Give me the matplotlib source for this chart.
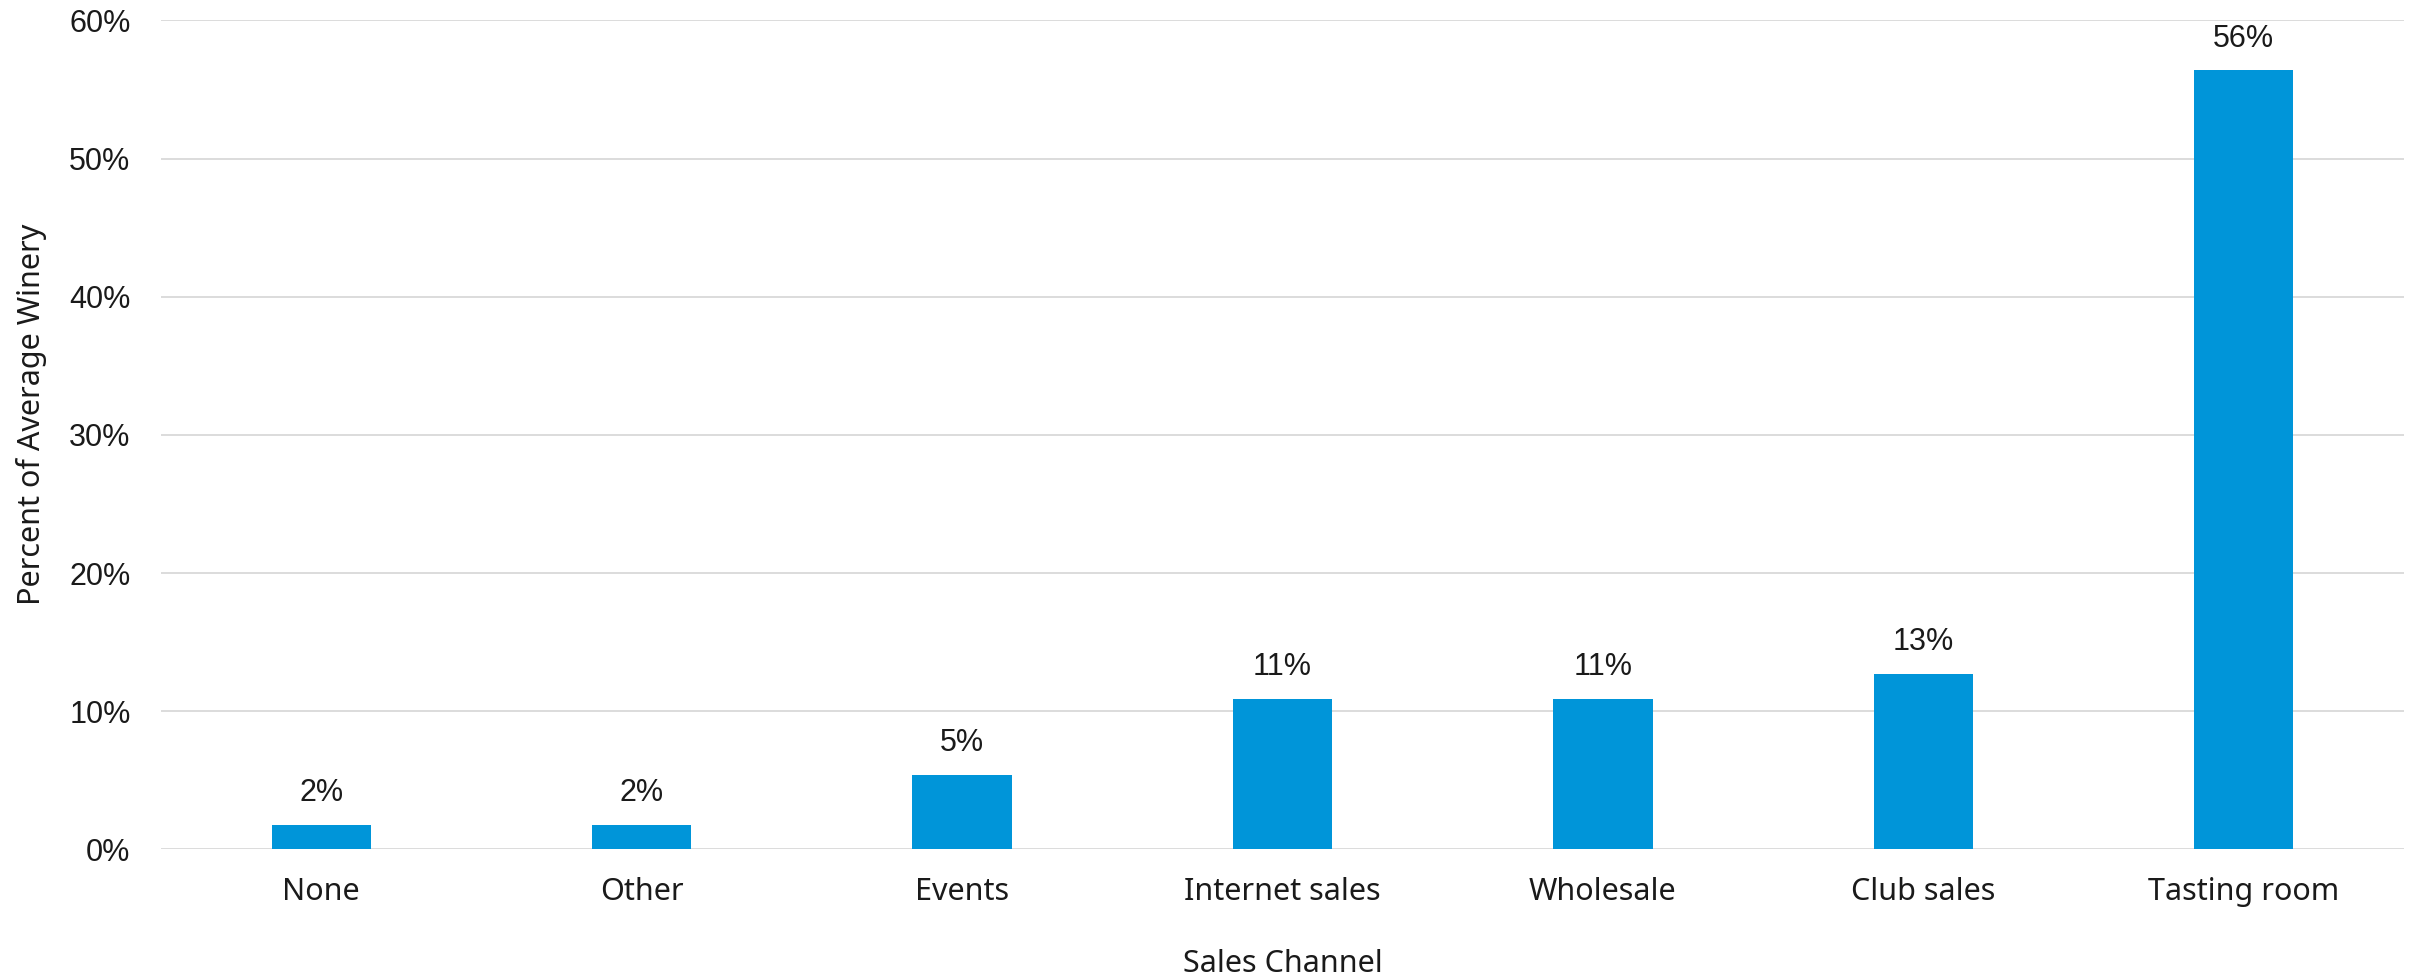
import matplotlib.pyplot as plt
import numpy as np
from matplotlib.ticker import PercentFormatter

# sales channel share of average winery
channels = ["None", "Other", "Events", "Internet sales", "Wholesale", "Club sales", "Tasting room"]
share = [1.8, 1.8, 5.4, 10.9, 10.9, 12.7, 56.4]
shown = ["2%", "2%", "5%", "11%", "11%", "13%", "56%"]

plt.rcParams['font.family'] = ['Noto Sans', 'DejaVu Sans']
num_font = ['Liberation Sans', 'DejaVu Sans']

fig = plt.figure(figsize=(24.15, 9.8), dpi=100)
ax = fig.add_axes([0.0667, 0.1332, 0.9287, 0.8459])

x = np.arange(len(channels))
bars = ax.bar(x, share, width=0.31, color="#0095D9", zorder=3)

for b, lab in zip(bars, shown):
    ax.annotate(lab, (b.get_x() + b.get_width() / 2, b.get_height()),
                xytext=(0, 12), textcoords="offset points",
                ha="center", va="bottom", fontsize=22, color="#1a1a1a",
                family=num_font)

ax.set_xlim(-0.5, len(channels) - 0.5)
ax.set_ylim(0, 60)
ax.set_yticks(np.arange(0, 61, 10))
ax.yaxis.set_major_formatter(PercentFormatter(decimals=0))
ax.set_xticks(x)
ax.set_xticklabels(channels)
ax.tick_params(axis="both", length=0, labelsize=22, colors="#1a1a1a")
ax.tick_params(axis="x", pad=20)
ax.tick_params(axis="y", pad=22)
for t in ax.get_yticklabels():
    t.set_family(num_font)

ax.grid(axis="y", color="#D9D9D9", linewidth=1.3, zorder=0)
for s in ax.spines.values():
    s.set_visible(False)

ax.set_ylabel("Percent of Average Winery", fontsize=22, color="#1a1a1a")
ax.yaxis.set_label_coords(-0.051, 0.525)
ax.set_xlabel("Sales Channel", fontsize=22, color="#1a1a1a", labelpad=30)

fig.savefig("out.png", dpi=100)
